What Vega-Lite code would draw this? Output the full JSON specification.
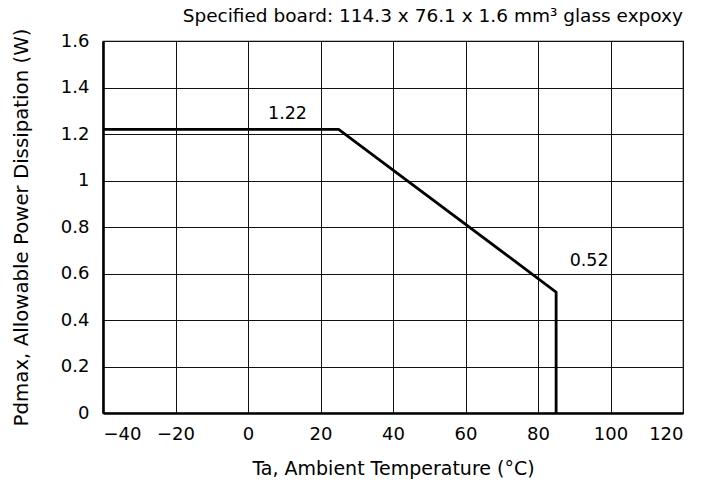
{
  "$schema": "https://vega.github.io/schema/vega-lite/v6.json",
  "autosize": "none",
  "width": 580,
  "height": 372,
  "padding": {"left": 103, "top": 41, "right": 19, "bottom": 70},
  "background": "white",
  "title": {
    "text": "Specified board: 114.3 x 76.1 x 1.6 mm³ glass expoxy",
    "anchor": "end",
    "fontSize": 18.5,
    "font": "DejaVu Sans",
    "fontWeight": "normal",
    "color": "black",
    "offset": 3
  },
  "config": {
    "view": {"stroke": "black", "strokeWidth": 1.2},
    "axis": {
      "labelFont": "DejaVu Sans",
      "titleFont": "DejaVu Sans",
      "labelFontSize": 18,
      "titleFontSize": 19,
      "titleFontWeight": "normal",
      "labelColor": "black",
      "titleColor": "black",
      "gridColor": "#111111",
      "gridOpacity": 1,
      "gridWidth": 1,
      "ticks": false,
      "domainColor": "black",
      "domainWidth": 2.6
    }
  },
  "datasets": {
    "curve": [
      {"ta": -40, "p": 1.22, "o": 0},
      {"ta": 25, "p": 1.22, "o": 1},
      {"ta": 85, "p": 0.52, "o": 2},
      {"ta": 85, "p": 0, "o": 3}
    ],
    "labels": [
      {"ta": 10.9, "p": 1.265, "t": "1.22"},
      {"ta": 94.1, "p": 0.634, "t": "0.52"}
    ]
  },
  "layer": [
    {
      "data": {"name": "curve"},
      "mark": {"type": "line", "color": "black", "strokeWidth": 2.8, "clip": true},
      "encoding": {
        "x": {
          "field": "ta", "type": "quantitative",
          "scale": {"domain": [-40, 120], "nice": false},
          "axis": {"values": [-40, -20, 0, 20, 40, 60, 80, 100, 120], "title": "Ta, Ambient Temperature (°C)", "labelPadding": 12, "titlePadding": 16}
        },
        "y": {
          "field": "p", "type": "quantitative",
          "scale": {"domain": [0, 1.6], "nice": false},
          "axis": {"values": [0, 0.2, 0.4, 0.6, 0.8, 1, 1.2, 1.4, 1.6], "format": "~g", "title": "Pdmax, Allowable Power Dissipation (W)", "labelPadding": 14, "titlePadding": 29, "titleFontSize": 19.75}
        },
        "order": {"field": "o"}
      }
    },
    {
      "data": {"name": "labels"},
      "mark": {"type": "text", "font": "DejaVu Sans", "fontSize": 17.5, "color": "black", "baseline": "alphabetic", "align": "center"},
      "encoding": {
        "x": {"field": "ta", "type": "quantitative"},
        "y": {"field": "p", "type": "quantitative"},
        "text": {"field": "t"}
      }
    }
  ]
}
